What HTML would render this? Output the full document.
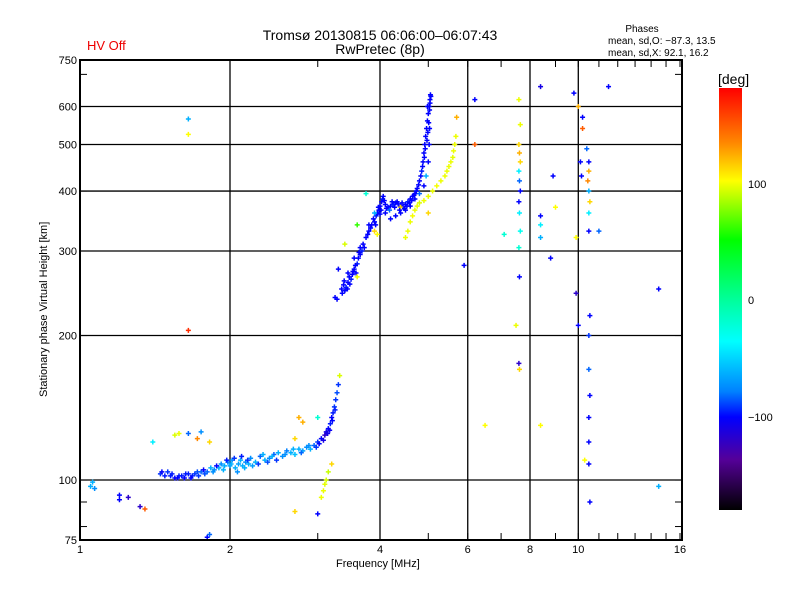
<!DOCTYPE html>
<html><head><meta charset="utf-8"><style>
body{margin:0;background:#fff;}
svg text{font-family:"Liberation Sans",sans-serif;}
</style></head><body>
<svg id="c" width="800" height="600" xmlns="http://www.w3.org/2000/svg">
<rect width="800" height="600" fill="#fff"/>
<text x="380" y="40" font-size="14" text-anchor="middle">Tromsø 20130815 06:06:00–06:07:43</text>
<text x="380" y="54" font-size="14" text-anchor="middle">RwPretec (8p)</text>
<text x="87" y="50" font-size="13" fill="#e00">HV Off</text>
<text x="642" y="32" font-size="10" text-anchor="middle">Phases</text>
<text x="608" y="44" font-size="10">mean, sd,O: −87.3, 13.5</text>
<text x="608" y="56" font-size="10">mean, sd,X:  92.1, 16.2</text>
<text x="336" y="567" font-size="11">Frequency [MHz]</text>
<text transform="translate(47,397) rotate(-90)" font-size="11">Stationary phase Virtual Height [km]</text>
<g id="grid"></g><g id="pts"></g>
<rect x="80" y="60" width="602" height="480" fill="none" stroke="#000" stroke-width="2"/>
<defs><linearGradient id="cg" x1="0" y1="0" x2="0" y2="1">
<stop offset="0" stop-color="#ff0000"/><stop offset="0.13" stop-color="#ff8800"/><stop offset="0.22" stop-color="#ffff00"/><stop offset="0.36" stop-color="#00ff00"/><stop offset="0.5" stop-color="#00ff99"/><stop offset="0.6" stop-color="#00ffff"/><stop offset="0.72" stop-color="#0080ff"/><stop offset="0.78" stop-color="#0000ff"/><stop offset="0.88" stop-color="#550099"/><stop offset="1" stop-color="#000000"/>
</linearGradient></defs>
<rect x="719" y="88" width="23" height="422" fill="url(#cg)"/>
<text x="718" y="84" font-size="14">[deg]</text>
<text x="748" y="188" font-size="11">100</text>
<text x="748" y="304" font-size="11">0</text>
<text x="748" y="421" font-size="11">−100</text>
</svg>
<script>
const xTicks=[1,2,4,6,8,10,16];
const yTicks=[75,100,200,300,400,500,600,750];
const freqs=[1.05,1.06,1.07,1.2,1.2,1.25,1.32,1.45,1.48,1.5,1.52,1.55,1.58,1.6,1.62,1.65,1.68,1.7,1.72,1.75,1.78,1.8,1.83,1.86,1.9,1.92,1.95,1.98,2.0,2.02,2.05,2.08,2.1,2.12,2.15,2.18,2.2,2.25,2.3,2.35,2.4,2.45,2.5,2.55,2.6,2.65,2.7,2.75,2.8,2.85,2.9,2.95,3.0,3.05,3.08,3.1,3.12,3.15,3.18,3.2,3.22,3.24,3.26,3.28,3.3,3.32,
3.05,3.08,3.1,3.12,3.15,1.55,1.58,1.65,1.72,1.75,1.82,2.7,2.75,2.8,3.0,3.2,2.7,3.0,1.8,1.82,1.4,1.35,
3.28,3.35,3.38,3.4,3.42,3.45,3.48,3.5,3.52,3.55,3.58,3.6,3.62,3.65,3.68,3.7,3.75,3.8,3.85,3.9,3.93,3.95,3.98,4.0,4.03,4.05,4.08,4.1,4.15,4.2,4.25,4.3,4.35,4.4,4.45,4.5,4.55,4.6,4.65,4.7,4.75,4.8,4.85,4.88,4.9,4.92,4.94,4.96,4.98,5.0,5.02,5.04,5.05,
3.45,3.55,3.65,3.8,3.9,4.0,4.1,4.2,4.3,4.4,4.5,4.6,4.7,4.8,4.9,4.95,5.0,5.02,5.03,4.98,3.3,3.25,
4.5,4.55,4.6,4.65,4.7,4.75,4.8,4.9,5.0,5.1,5.2,5.3,5.4,5.45,5.5,5.55,5.6,5.62,5.65,5.68,5.7,3.9,3.95,3.6,3.4,4.4,
6.2,5.9,6.5,7.6,7.65,7.6,7.62,7.65,7.6,7.62,7.65,7.6,7.62,7.65,7.6,7.62,7.6,7.62,7.5,7.1,8.4,8.4,8.4,8.4,8.4,8.8,8.9,9.0,9.8,9.9,9.9,10.0,10.2,10.1,10.15,10.2,10.3,10.0,10.4,10.5,10.5,10.45,10.5,10.55,10.5,10.5,10.55,10.5,10.5,10.55,10.5,10.5,10.5,10.55,11.0,11.5,14.5,14.5,1.65,1.65,1.65,3.6,3.75,5.0,6.2,
1.46,1.53,1.57,1.63,1.67,1.73,1.77,1.85,1.88,1.94,1.97,2.01,2.04,2.07,2.11,2.14,2.17,2.22,2.28,2.33,2.38,2.43,2.48,2.58,2.68,2.78,2.88,2.98,3.02,3.14,3.17,3.21,3.25,
3.36,3.39,3.44,3.47,3.53,3.57,3.63,3.72,3.78,3.83,3.88,3.92,3.97,4.02,4.06,4.12,4.18,4.23,4.28,4.33,4.38,4.43,4.48,4.53,4.58,4.63,4.68,4.73,4.78,4.83,4.87,4.91,4.93,4.97,4.99,5.01,5.03,5.04,5.06];
const heights=[97,99,96,93,91,92,88,103,102,104,102,101,102,102,101,103,102,103,104,104,103,104,106,105,106,108,107,109,107,110,106,108,110,107,109,108,111,109,112,110,111,113,114,112,115,114,113,116,115,117,116,118,120,122,121,124,126,128,131,135,138,142,147,152,158,165,
92,95,98,100,104,124,125,125,122,126,120,122,135,132,135,108,86,85,76,77,120,87,
238,250,255,248,252,258,256,262,268,275,270,282,290,295,300,310,320,330,340,345,355,360,365,372,380,385,382,375,370,372,375,378,376,372,370,375,380,385,390,395,405,420,440,460,480,500,520,540,560,580,600,620,635,
270,290,305,340,360,358,360,350,355,360,365,372,385,395,410,430,460,500,540,600,275,240,
320,330,345,355,365,372,378,382,390,400,410,420,430,440,450,460,470,485,500,520,570,330,325,265,310,370,
500,280,130,620,550,500,480,460,440,420,400,380,360,330,305,265,175,170,210,325,130,355,340,320,660,290,430,370,640,320,245,210,570,460,430,540,110,600,490,460,440,420,400,380,360,330,220,200,170,150,135,120,108,90,330,660,250,97,565,525,205,340,395,360,620,
104,103,101,103,101,102,105,104,107,105,110,108,111,104,112,106,110,107,108,113,109,112,110,113,116,114,118,117,119,125,127,133,140,
245,260,250,265,272,280,298,305,325,335,350,340,370,365,390,368,365,380,370,380,365,378,368,372,378,382,392,400,412,430,450,470,490,510,530,555,590,610,630];
const phases=[-60,-60,-70,-100,-100,-120,-120,-90,-95,-90,-95,-100,-95,-95,-100,-95,-95,-90,-85,-80,-85,-80,-60,-70,-60,-70,-60,-75,-65,-70,-60,-65,-60,-60,-70,-60,-70,-60,-80,-60,-70,-80,-60,-70,-75,-60,-55,-60,-65,-70,-60,-80,-90,-100,-110,-120,-110,-100,-95,-100,-95,-90,-90,-85,-90,100,
110,110,105,100,90,100,110,-80,150,-70,130,130,140,140,-20,130,130,-100,-100,-80,-40,160,
-100,-100,-100,-100,-95,-100,-100,-95,-100,-100,-100,-95,-100,-100,-95,-100,-100,-100,-100,-100,-95,-100,-100,-100,-100,-95,-100,-100,-100,-100,-95,-100,-100,-100,-100,-100,-95,-100,-100,-100,-100,-100,-95,-100,-100,-100,-100,-100,-100,-100,-100,-100,-100,
-100,-100,-100,-100,-60,-100,-100,-100,-100,-100,-100,-100,-100,-80,-100,-60,-100,-100,-100,-100,-100,-100,
110,110,110,115,110,110,100,110,110,110,115,110,110,110,110,110,105,110,110,110,140,130,120,110,100,130,
160,-100,120,110,110,130,140,130,-40,-80,-100,-100,-40,-30,-20,-100,-120,130,110,-20,120,-100,-40,-60,-110,-100,-100,120,-100,120,-120,-100,-100,-100,-100,160,120,140,-80,-100,140,150,-60,130,-40,-100,-100,-90,-80,-100,-100,-100,-100,-100,-80,-100,-100,-60,-60,120,170,60,-20,130,-100,
-100,-95,-100,-95,-100,-90,-100,-70,-100,-60,-95,-60,-90,-70,-95,-60,-90,-65,-90,-60,-85,-60,-90,-70,-60,-80,-70,-90,-100,-110,-105,-100,-95,
-100,-100,-100,-100,-100,-100,-100,-100,-100,-100,-100,-100,-100,-100,-100,-100,-80,-100,-100,-100,-100,-100,-100,-100,-100,-100,-100,-100,-100,-100,-100,-100,-100,-100,-100,-100,-100,-100,-100];
const X=f=>80+150*Math.log2(f);
const Y=h=>540-480*Math.log10(h/75);
const NS="http://www.w3.org/2000/svg";
function mk(t,a,p){const e=document.createElementNS(NS,t);for(const k in a)e.setAttribute(k,a[k]);p.appendChild(e);return e;}
const grid=document.getElementById('grid');
xTicks.forEach(t=>{
  const x=X(t);
  if(t>1&&t<16){const l=mk('line',{x1:x,x2:x,y1:60,y2:540,stroke:'#000','stroke-width':1.3},grid);
  
  }
  const tx=mk('text',{x:x,y:553,'font-size':11,'text-anchor':'middle'},grid);tx.textContent=t;
  
  
});
for(let f=1;f<=16;f++){const x=X(f);mk('line',{x1:x,x2:x,y1:60,y2:67,stroke:'#000'},grid);mk('line',{x1:x,x2:x,y1:533,y2:540,stroke:'#000'},grid);}
yTicks.forEach(t=>{
  const y=Y(t);
  if(t>75&&t<750){const l=mk('line',{x1:80,x2:682,y1:y,y2:y,stroke:'#000','stroke-width':1.3},grid);
  
  }
  const tx=mk('text',{x:77,y:y+4,'font-size':11,'text-anchor':'end'},grid);tx.textContent=t;
  
  
});
[80,90,100,200,300,400,500,600,700].forEach(h=>{const y=Y(h);mk('line',{x1:80,x2:87,y1:y,y2:y,stroke:'#000'},grid);mk('line',{x1:675,x2:682,y1:y,y2:y,stroke:'#000'},grid);});
const stops=[[180,[255,0,0]],[150,[255,136,0]],[120,[255,255,0]],[90,[200,255,0]],[50,[0,255,0]],[0,[0,255,153]],[-35,[0,255,255]],[-75,[0,128,255]],[-100,[0,0,255]],[-140,[85,0,153]],[-180,[0,0,0]]];
function col(p){for(let i=0;i<stops.length-1;i++){const a=stops[i],b=stops[i+1];if(p<=a[0]&&p>=b[0]){const t=(a[0]-p)/(a[0]-b[0]);return 'rgb('+a[1].map((v,j)=>Math.round(v+(b[1][j]-v)*t)).join(',')+')';}}return '#000';}
const pts=document.getElementById('pts');
for(let i=0;i<freqs.length;i++){
  const x=X(freqs[i]),y=Y(heights[i]),c=col(phases[i]);
  const g=mk('path',{d:`M${x-2.5} ${y}H${x+2.5}M${x} ${y-2.5}V${y+2.5}`,stroke:c,'stroke-width':1.5,fill:'none'},pts);
  
  
}
</script>
</body></html>
